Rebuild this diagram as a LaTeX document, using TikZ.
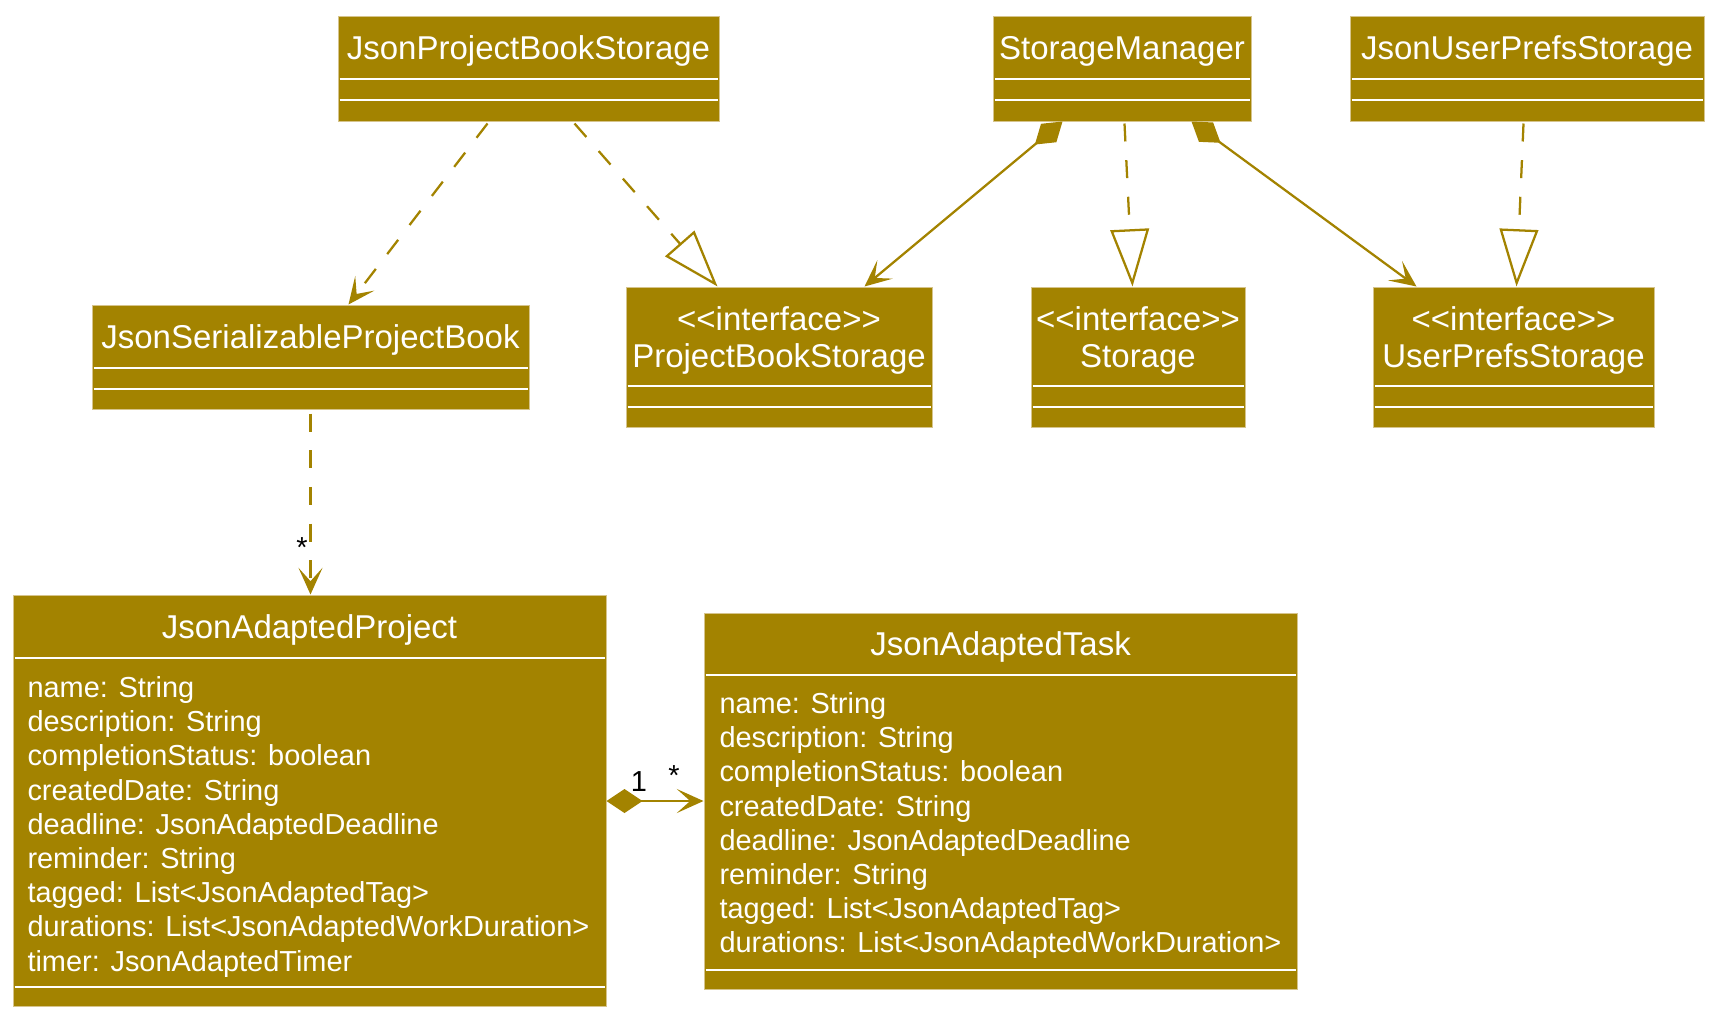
\documentclass[tikz,border=0pt]{standalone}
\usepackage{fontspec}
\setmainfont{Liberation Sans}
\usetikzlibrary{arrows.meta,fit}
\definecolor{umlgold}{RGB}{163,131,0}
\definecolor{umledge}{RGB}{214,196,140}
\newcommand{\umlstereo}[1]{<\kern0pt<#1>\kern0pt>}
\tikzset{every picture/.style={line width=0.75pt}}

\begin{document}
\begin{tikzpicture}[x=0.75pt,y=0.75pt,yscale=-1,xscale=1,
  classbox/.style={draw=umledge,fill=umlgold,inner sep=0pt},
  divider/.style={draw=white,line width=1.5pt},
  classname/.style={text=white,inner sep=0pt,anchor=base,font=\fontsize{24.75}{27}\selectfont},
  attrs/.style={text=white,inner sep=0pt,anchor=north west,align=left,font=\fontsize{21.7}{25.65}\selectfont},
  mult/.style={inner sep=0pt,font=\fontsize{21.7}{25.65}\selectfont},
  depend/.style={draw=umlgold,line width=1.7pt,dash pattern=on 13.5pt off 14pt,-{Stealth[length=20pt,width=18pt,inset=10pt]}},
  realize/.style={draw=umlgold,line width=1.7pt,dash pattern=on 13.5pt off 14pt,-{Triangle[open,length=43pt,width=29pt]}},
  compose/.style={draw=umlgold,line width=1.7pt,{Diamond[length=27pt,width=18pt]}-{Stealth[length=20pt,width=18pt,inset=10pt]}}]
\useasboundingbox (0,0) rectangle (1716,1017);

%Shape: Class JsonProjectBookStorage
\node[classbox,fit={(338,16) (719,121)}] (jpbs) {};
\draw[divider] ([shift={(2,63)}]jpbs.north west) -- ([shift={(-2,63)}]jpbs.north east);
\draw[divider] ([shift={(2,84)}]jpbs.north west) -- ([shift={(-2,84)}]jpbs.north east);
%Shape: Class StorageManager
\node[classbox,fit={(993,16) (1251,121)}] (smgr) {};
\draw[divider] ([shift={(2,63)}]smgr.north west) -- ([shift={(-2,63)}]smgr.north east);
\draw[divider] ([shift={(2,84)}]smgr.north west) -- ([shift={(-2,84)}]smgr.north east);
%Shape: Class JsonUserPrefsStorage
\node[classbox,fit={(1350,16) (1704,121)}] (jups) {};
\draw[divider] ([shift={(2,63)}]jups.north west) -- ([shift={(-2,63)}]jups.north east);
\draw[divider] ([shift={(2,84)}]jups.north west) -- ([shift={(-2,84)}]jups.north east);
%Shape: Class JsonSerializableProjectBook
\node[classbox,fit={(92,305) (529,409)}] (jspb) {};
\draw[divider] ([shift={(2,63)}]jspb.north west) -- ([shift={(-2,63)}]jspb.north east);
\draw[divider] ([shift={(2,84)}]jspb.north west) -- ([shift={(-2,84)}]jspb.north east);
%Shape: Interface ProjectBookStorage
\node[classbox,fit={(626,287) (932,427)}] (pbs) {};
\draw[divider] ([shift={(2,99)}]pbs.north west) -- ([shift={(-2,99)}]pbs.north east);
\draw[divider] ([shift={(2,120)}]pbs.north west) -- ([shift={(-2,120)}]pbs.north east);
%Shape: Interface Storage
\node[classbox,fit={(1031,287) (1245,427)}] (stor) {};
\draw[divider] ([shift={(2,99)}]stor.north west) -- ([shift={(-2,99)}]stor.north east);
\draw[divider] ([shift={(2,120)}]stor.north west) -- ([shift={(-2,120)}]stor.north east);
%Shape: Interface UserPrefsStorage
\node[classbox,fit={(1373,287) (1654,427)}] (ups) {};
\draw[divider] ([shift={(2,99)}]ups.north west) -- ([shift={(-2,99)}]ups.north east);
\draw[divider] ([shift={(2,120)}]ups.north west) -- ([shift={(-2,120)}]ups.north east);
%Shape: Class JsonAdaptedProject
\node[classbox,fit={(13,595) (606,1006)}] (jap) {};
\draw[divider] ([shift={(2,63)}]jap.north west) -- ([shift={(-2,63)}]jap.north east);
\draw[divider] ([shift={(2,392)}]jap.north west) -- ([shift={(-2,392)}]jap.north east);
%Shape: Class JsonAdaptedTask
\node[classbox,fit={(704,613) (1297,989)}] (jat) {};
\draw[divider] ([shift={(2,62)}]jat.north west) -- ([shift={(-2,62)}]jat.north east);
\draw[divider] ([shift={(2,357)}]jat.north west) -- ([shift={(-2,357)}]jat.north east);

% Text Node
\node[classname] (jpbs-t) at (528.5,59) {JsonProjectBookStorage};
% Text Node
\node[classname] (smgr-t) at (1122,59) {StorageManager};
% Text Node
\node[classname] (jups-t) at (1527,59) {JsonUserPrefsStorage};
% Text Node
\node[classname] (jspb-t) at (310.5,348) {JsonSerializableProjectBook};
% Text Node
\node[classname] (pbs-s) at (779,330) {\umlstereo{interface}};
\node[classname] (pbs-t) at (779,367) {ProjectBookStorage};
% Text Node
\node[classname] (stor-s) at (1138,330) {\umlstereo{interface}};
\node[classname] (stor-t) at (1138,367) {Storage};
% Text Node
\node[classname] (ups-s) at (1513.5,330) {\umlstereo{interface}};
\node[classname] (ups-t) at (1513.5,367) {UserPrefsStorage};
% Text Node
\node[classname] (jap-t) at (309.5,638) {JsonAdaptedProject};
\node[attrs] (jap-a) at (27,676) {name: String\\description: String\\completionStatus: boolean\\createdDate: String\\deadline: JsonAdaptedDeadline\\reminder: String\\tagged: List<JsonAdaptedTag>\\durations: List<JsonAdaptedWorkDuration>\\timer: JsonAdaptedTimer};
% Text Node
\node[classname] (jat-t) at (1000.5,655) {JsonAdaptedTask};
\node[attrs] (jat-a) at (719,692) {name: String\\description: String\\completionStatus: boolean\\createdDate: String\\deadline: JsonAdaptedDeadline\\reminder: String\\tagged: List<JsonAdaptedTag>\\durations: List<JsonAdaptedWorkDuration>};

%Straight Lines: dependencies
\draw[depend] ([shift={(150,2)}]jpbs.south west) -- ([shift={(257,0)}]jspb.north west);
\draw[depend] ([shift={(0,4)}]jspb.south) -- (jspb.south |- jap.north);
%Straight Lines: realizations
\draw[realize] ([shift={(237,2)}]jpbs.south west) -- ([shift={(92,0)}]pbs.north west);
\draw[realize] ([shift={(132,2)}]smgr.south west) -- ([shift={(102,0)}]stor.north west);
\draw[realize] ([shift={(174,2)}]jups.south west) -- ([shift={(144,0)}]ups.north west);
%Straight Lines: compositions
\draw[compose] ([shift={(70,0)}]smgr.south west) -- ([shift={(239,0)}]pbs.north west);
\draw[compose] ([shift={(199,0)}]smgr.south west) -- ([shift={(44,0)}]ups.north west);
\draw[compose] (jap.east |- jat.west) -- (jat.west);

% Text Node
\node[mult] (m-jap) at (302,548) {*};
% Text Node
\node[mult] (m-one) at (639,782) {1};
% Text Node
\node[mult] (m-jat) at (674,776) {*};

\end{tikzpicture}
\end{document}
